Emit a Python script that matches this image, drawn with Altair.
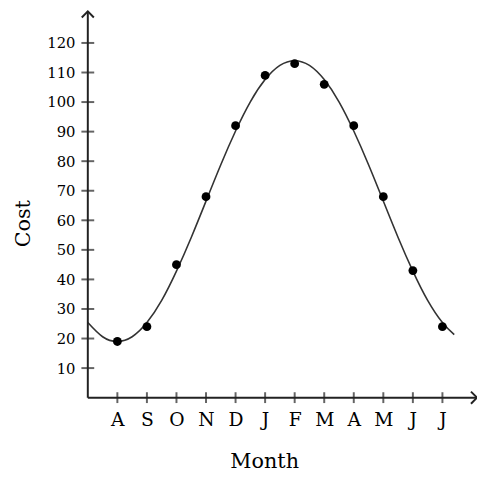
import altair as alt
import pandas as pd

# Data
month_labels = ["A", "S", "O", "N", "D", "J", "F", "M", "A", "M", "J", "J"]
month_index = [1, 2, 3, 4, 5, 6, 7, 8, 9, 10, 11, 12]
cost_points = [19, 24, 45, 68, 92, 109, 113, 106, 92, 68, 43, 24]

# fitted curve
curve_x = [0, 0.5, 1, 1.5, 2, 2.5, 3, 3.5, 4, 4.5, 5, 5.5, 6, 6.5, 7,
           7.5, 8, 8.5, 9, 9.5, 10, 10.5, 11, 11.5, 12, 12.4]
curve_y = [25.4, 20.6, 19, 20.6, 25.4, 32.9, 42.8, 54.2, 66.5, 78.8, 90.2, 100.1, 107.6, 112.4, 114,
           112.4, 107.6, 100.1, 90.2, 78.8, 66.5, 54.2, 42.8, 32.9, 25.4, 21.3]

y_ticks = [10, 20, 30, 40, 50, 60, 70, 80, 90, 100, 110, 120]

X_MAX = 13.17
Y_MAX = 130.67
FONT = "DejaVu Serif"
AXC = "#222222"

pts = pd.DataFrame({"m": month_index, "cost": cost_points})
curve = pd.DataFrame({"m": curve_x, "cost": curve_y})
xt = pd.DataFrame({"m": month_index, "cost": [0] * 12})
yt = pd.DataFrame({"m": [0] * len(y_ticks), "cost": y_ticks})
xdom = pd.DataFrame({"m": [0], "m2": [X_MAX], "cost": [0]})
ydom = pd.DataFrame({"m": [0], "cost": [0], "cost2": [Y_MAX]})
up = pd.DataFrame({"m": [0], "cost": [Y_MAX]})
right = pd.DataFrame({"m": [X_MAX], "cost": [0]})

label_expr = "[" + ",".join("'%s'" % s for s in month_labels) + "][datum.value - 1]"

xscale = alt.Scale(domain=[0, X_MAX], nice=False, zero=False)
yscale = alt.Scale(domain=[0, Y_MAX], nice=False, zero=False)

x_axis = alt.Axis(
    values=month_index, labelExpr=label_expr, ticks=False, tickSize=0, domain=False, grid=False,
    labelPadding=28, labelBaseline="alphabetic", labelFont=FONT, labelFontSize=19,
    labelColor="black", labelFlush=False, labelOverlap=False, labelBound=False,
    title="Month", titleX=179, titleY=71, titleBaseline="alphabetic", titleAlign="center",
    titleAnchor="start", titleFont=FONT, titleFontSize=21, titleFontWeight="normal", titleColor="black",
)
y_axis = alt.Axis(
    values=y_ticks, ticks=False, tickSize=0, domain=False, grid=False,
    labelPadding=13, labelFont=FONT, labelFontSize=15, labelColor="black", labelFlush=False,
    labelOverlap=False, labelBound=False,
    title="Cost", titleX=-59, titleY=215, titleAngle=-90, titleBaseline="alphabetic",
    titleAlign="center", titleAnchor="start", titleFont=FONT, titleFontSize=21,
    titleFontWeight="normal", titleColor="black",
)

X = alt.X("m:Q", scale=xscale, axis=x_axis)
Y = alt.Y("cost:Q", scale=yscale, axis=y_axis)

line = alt.Chart(curve).mark_line(color="#333333", strokeWidth=1.6, interpolate="natural").encode(
    x=X, y=Y)
dots = alt.Chart(pts).mark_circle(color="black", size=80, opacity=1).encode(x=X, y=Y)
xrule = alt.Chart(xdom).mark_rule(color=AXC, strokeWidth=2).encode(x=X, x2="m2:Q", y=Y)
yrule = alt.Chart(ydom).mark_rule(color=AXC, strokeWidth=2).encode(x=X, y=Y, y2="cost2:Q")
xticks = alt.Chart(xt).mark_tick(color=AXC, orient="vertical", size=11, thickness=2).encode(x=X, y=Y)
yticks = alt.Chart(yt).mark_tick(color=AXC, orient="horizontal", size=13, thickness=2).encode(x=X, y=Y)
arrow_up = alt.Chart(up).mark_point(
    shape="M-1,1L0,0L1,1", filled=False, color=AXC, strokeWidth=2, size=150, opacity=1).encode(x=X, y=Y)
arrow_right = alt.Chart(right).mark_point(
    shape="M-1,-1L0,0L-1,1", filled=False, color=AXC, strokeWidth=2, size=150, opacity=1).encode(x=X, y=Y)

chart = alt.layer(line, xrule, yrule, xticks, yticks, arrow_up, arrow_right, dots).properties(
    width=395, height=392,
    autosize=alt.AutoSizeParams(type="none"),
    padding={"left": 81, "top": 0, "right": 0, "bottom": 72},
    background="white",
).configure_view(stroke=None)

chart.save("out.html", embed_options={"renderer": "svg", "actions": False})
